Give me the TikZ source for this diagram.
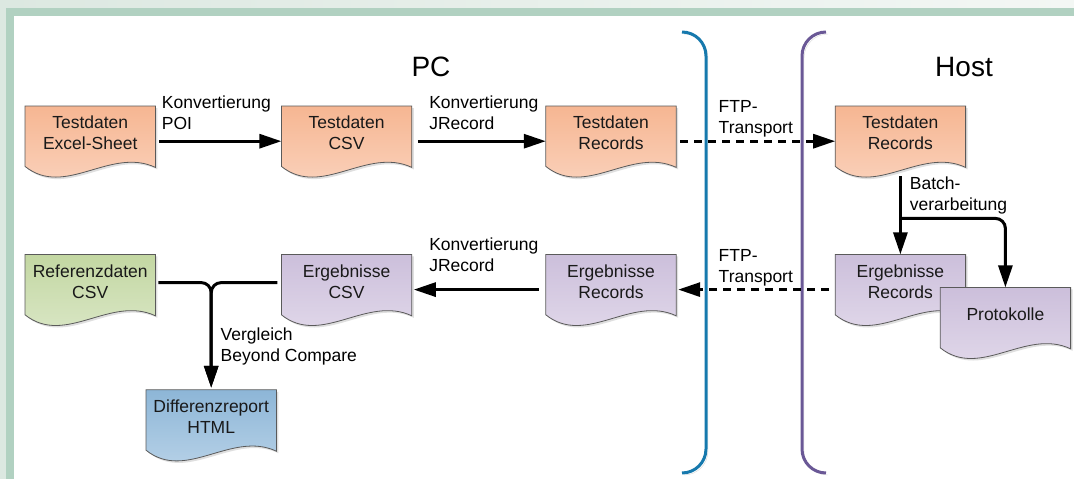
\documentclass[tikz,border=0pt]{standalone}
\usepackage{fontspec}
\setmainfont{Liberation Sans}
\usetikzlibrary{arrows.meta,positioning,backgrounds,shadows}

\definecolor{frameout}{HTML}{DCE8E1}
\definecolor{frameoutR}{HTML}{F3F7F4}
\definecolor{framebar}{HTML}{B1D1C1}
\definecolor{docline}{HTML}{5A5A5A}
\definecolor{orgtop}{HTML}{F6B692}
\definecolor{orgbot}{HTML}{FBD6C2}
\definecolor{lilatop}{HTML}{CCBFDB}
\definecolor{lilabot}{HTML}{E4DCEC}
\definecolor{gruentop}{HTML}{C3D7A2}
\definecolor{gruenbot}{HTML}{DDE9CB}
\definecolor{blautop}{HTML}{8DB6D7}
\definecolor{blaubot}{HTML}{BED6EA}
\definecolor{pcblue}{HTML}{1679AD}
\definecolor{hostlila}{HTML}{6A5896}

\tikzset{
  doc/.style={minimum width=130pt, minimum height=54pt, inner sep=0pt,
    align=center, text=black!90, font=\fontsize{17.5}{21}\selectfont},
  docshape/.style={draw=docline, line width=0.8pt,
    drop shadow={shadow xshift=2pt, shadow yshift=-2pt, opacity=0.25}},
  orangedoc/.style={top color=orgtop, bottom color=orgbot},
  liladoc/.style={top color=lilatop, bottom color=lilabot},
  gruendoc/.style={top color=gruentop, bottom color=gruenbot},
  blaudoc/.style={top color=blautop, bottom color=blaubot},
  flow/.style={-{Triangle[length=22pt,width=14pt]}, line width=3pt},
  ftp/.style={dash pattern=on 8pt off 6pt},
  lbl/.style={align=left, inner sep=0pt, font=\fontsize{17.5}{21}\selectfont},
  title/.style={font=\fontsize{28}{32}\selectfont},
  klammer/.style={line width=3pt,
    preaction={draw=black!15, transform canvas={shift={(2pt,-2pt)}}}}
}

\begin{document}
\begin{tikzpicture}[x=1pt, y=-1pt, >=Triangle]
  \useasboundingbox (0,0) rectangle (1074,479);

  % frame
  \begin{pgfonlayer}{background}
    \fill[left color=frameout, right color=frameoutR] (0,0) rectangle (1074,479);
    \fill[framebar] (6,8) rectangle (1074,479);
    \fill[white] (14,16) rectangle (1074,479);
  \end{pgfonlayer}

  \node[title, anchor=base] (pc) at (431,76) {PC};
  \node[title, anchor=base] (host) at (964,76) {Host};

  % documents
  \node[doc, anchor=north west] (xls) at (25,106) {Testdaten\\Excel-Sheet};
  \node[doc, right=126pt of xls]  (tcsv)  {Testdaten\\CSV};
  \node[doc, right=134pt of tcsv] (trec)  {Testdaten\\Records};
  \node[doc, right=159pt of trec] (htrec) {Testdaten\\Records};
  \node[doc, below=94pt of xls]   (ref)   {Referenzdaten\\CSV};
  \node[doc, below=94pt of tcsv]  (ecsv)  {Ergebnisse\\CSV};
  \node[doc, below=94pt of trec]  (erec)  {Ergebnisse\\Records};
  \node[doc, below=94pt of htrec] (hrec)  {Ergebnisse\\Records};
  \node[doc, below right=33pt and 105pt of hrec.north west] (prot) {Protokolle};
  \node[doc, below right=81pt and 121pt of ref.south west]  (diff) {Differenzreport\\HTML};

  % wavy outlines behind the text
  \begin{pgfonlayer}{background}
    \foreach \n/\sty in {xls/orangedoc, tcsv/orangedoc, trec/orangedoc,
        htrec/orangedoc, ref/gruendoc, ecsv/liladoc, erec/liladoc,
        hrec/liladoc, prot/liladoc, diff/blaudoc}
      \path[docshape, \sty] (\n.north west) -- (\n.north east)
        -- ([yshift=-7pt]\n.south east)
        .. controls +(-45,-21) and +(40,32) .. ([yshift=-6pt]\n.south west)
        -- cycle;
  \end{pgfonlayer}

  % PC / Host
  \draw[klammer, pcblue] (682,32) to[out=0,in=90] (706,56) -- (706,449)
    to[out=-90,in=0] (682,473);
  \draw[klammer, hostlila] (826,32) to[out=180,in=90] (802,56) -- (802,449)
    to[out=-90,in=180] (826,473);

  % test data
  \path[flow, shorten <=4pt] ([yshift=-8pt]xls.east) edge
    node[lbl, above right=10pt and 5pt, pos=0] {Konvertierung\\POI} ([yshift=-8pt]tcsv.west);
  \path[flow, shorten <=6pt] ([yshift=-8pt]tcsv.east) edge
    node[lbl, above right=10pt and 16pt, pos=0] {Konvertierung\\JRecord} ([yshift=-8pt]trec.west);
  \path[flow, ftp, shorten <=4pt] ([yshift=-8pt]trec.east) edge
    node[lbl, above right=3pt and 41pt, pos=0] {FTP-\\Transport} ([yshift=-8pt]htrec.west);

  % host side
  \draw[flow] ([yshift=-16pt]htrec.south) --
    node[lbl, pos=0, anchor=north west, xshift=8pt, yshift=1pt] {Batch-\\verarbeitung} (hrec.north);
  \draw[flow, rounded corners=10pt] ([yshift=-58pt]htrec.south) -| (prot.north);

  % results
  \path[flow, ftp, shorten <=6pt, shorten >=2pt] ([yshift=-8pt]hrec.west) edge
    node[lbl, above right=2pt and 41pt, pos=1] {FTP-\\Transport} ([yshift=-8pt]erec.east);
  \path[flow, shorten <=7pt, shorten >=2pt] ([yshift=-8pt]erec.west) edge
    node[lbl, above right=16pt and 16pt, pos=1] {Konvertierung\\JRecord} ([yshift=-8pt]ecsv.east);

  % comparison
  \draw[flow, rounded corners=10pt, shorten <=3pt, shorten >=2pt] ([yshift=-1pt]ref.east) -|
    node[lbl, right=8pt, pos=0.8] {Vergleich\\Beyond Compare} (diff.north);
  \draw[flow, rounded corners=10pt, shorten <=4pt, shorten >=2pt] ([yshift=-1pt]ecsv.west) -| (diff.north);
\end{tikzpicture}
\end{document}
